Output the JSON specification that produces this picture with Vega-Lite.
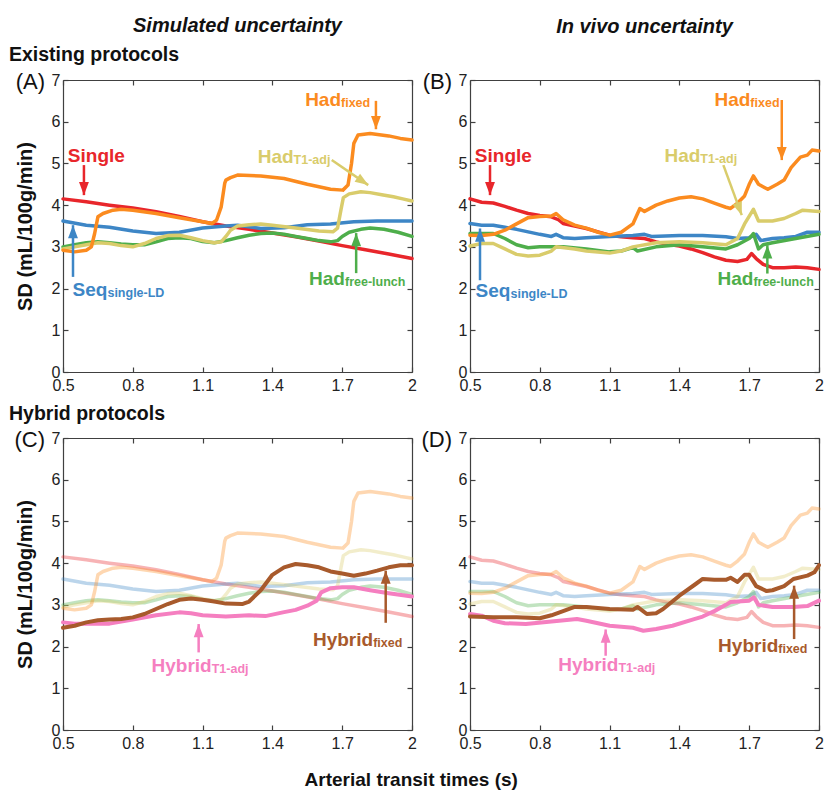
{
"$schema":"https://vega.github.io/schema/vega-lite/v6.json",
"padding":{"left":9,"top":16,"right":2,"bottom":2},
"config":{"view":{"stroke":null},"font":"Liberation Sans",
"axis":{"grid":false,"domainColor":"#404040","domainWidth":1.2,"tickColor":"#404040","tickWidth":1.2,"tickSize":-5,"labelFontSize":16,"labelColor":"#222222","labelPadding":8,"labelFlush":false,"titleFontSize":20,"titleFontWeight":"bold","titleColor":"#111111","titlePadding":16},
"axisX":{"labelPadding":10},
"text":{"font":"Liberation Sans"},"title":{"font":"Liberation Sans","color":"#111111"}},
"title":{"text":"Arterial transit times (s)","orient":"bottom","anchor":"middle","frame":"bounds","fontSize":19,"fontWeight":"bold","offset":20,"dx":-5},
"datasets":{
"lines":[
{"p":"A","s":"Single","x":0.5,"y":4.15},{"p":"A","s":"Single","x":0.6,"y":4.08},{"p":"A","s":"Single","x":0.7,"y":4.0},{"p":"A","s":"Single","x":0.8,"y":3.93},{"p":"A","s":"Single","x":0.9,"y":3.84},{"p":"A","s":"Single","x":1.0,"y":3.73},{"p":"A","s":"Single","x":1.1,"y":3.6},{"p":"A","s":"Single","x":1.2,"y":3.5},{"p":"A","s":"Single","x":1.3,"y":3.42},{"p":"A","s":"Single","x":1.4,"y":3.33},{"p":"A","s":"Single","x":1.5,"y":3.24},{"p":"A","s":"Single","x":1.6,"y":3.14},{"p":"A","s":"Single","x":1.7,"y":3.03},{"p":"A","s":"Single","x":1.8,"y":2.93},{"p":"A","s":"Single","x":1.9,"y":2.83},{"p":"A","s":"Single","x":2.0,"y":2.72},
{"p":"A","s":"Seq","x":0.5,"y":3.62},{"p":"A","s":"Seq","x":0.6,"y":3.52},{"p":"A","s":"Seq","x":0.7,"y":3.47},{"p":"A","s":"Seq","x":0.8,"y":3.38},{"p":"A","s":"Seq","x":0.9,"y":3.32},{"p":"A","s":"Seq","x":1.0,"y":3.35},{"p":"A","s":"Seq","x":1.1,"y":3.45},{"p":"A","s":"Seq","x":1.2,"y":3.5},{"p":"A","s":"Seq","x":1.25,"y":3.52},{"p":"A","s":"Seq","x":1.35,"y":3.44},{"p":"A","s":"Seq","x":1.45,"y":3.46},{"p":"A","s":"Seq","x":1.55,"y":3.53},{"p":"A","s":"Seq","x":1.65,"y":3.55},{"p":"A","s":"Seq","x":1.75,"y":3.6},{"p":"A","s":"Seq","x":1.85,"y":3.62},{"p":"A","s":"Seq","x":2.0,"y":3.62},
{"p":"A","s":"HadL","x":0.5,"y":3.0},{"p":"A","s":"HadL","x":0.55,"y":3.05},{"p":"A","s":"HadL","x":0.6,"y":3.1},{"p":"A","s":"HadL","x":0.65,"y":3.12},{"p":"A","s":"HadL","x":0.7,"y":3.1},{"p":"A","s":"HadL","x":0.75,"y":3.07},{"p":"A","s":"HadL","x":0.8,"y":3.05},{"p":"A","s":"HadL","x":0.85,"y":3.05},{"p":"A","s":"HadL","x":0.9,"y":3.12},{"p":"A","s":"HadL","x":0.95,"y":3.2},{"p":"A","s":"HadL","x":1.0,"y":3.22},{"p":"A","s":"HadL","x":1.05,"y":3.2},{"p":"A","s":"HadL","x":1.1,"y":3.13},{"p":"A","s":"HadL","x":1.15,"y":3.1},{"p":"A","s":"HadL","x":1.2,"y":3.15},{"p":"A","s":"HadL","x":1.25,"y":3.22},{"p":"A","s":"HadL","x":1.3,"y":3.28},{"p":"A","s":"HadL","x":1.35,"y":3.32},{"p":"A","s":"HadL","x":1.4,"y":3.33},{"p":"A","s":"HadL","x":1.45,"y":3.3},{"p":"A","s":"HadL","x":1.5,"y":3.25},{"p":"A","s":"HadL","x":1.55,"y":3.2},{"p":"A","s":"HadL","x":1.6,"y":3.15},{"p":"A","s":"HadL","x":1.65,"y":3.12},{"p":"A","s":"HadL","x":1.68,"y":3.15},{"p":"A","s":"HadL","x":1.7,"y":3.25},{"p":"A","s":"HadL","x":1.73,"y":3.35},{"p":"A","s":"HadL","x":1.78,"y":3.42},{"p":"A","s":"HadL","x":1.82,"y":3.45},{"p":"A","s":"HadL","x":1.88,"y":3.42},{"p":"A","s":"HadL","x":1.94,"y":3.35},{"p":"A","s":"HadL","x":2.0,"y":3.25},
{"p":"A","s":"HadT","x":0.5,"y":2.95},{"p":"A","s":"HadT","x":0.55,"y":3.0},{"p":"A","s":"HadT","x":0.6,"y":3.05},{"p":"A","s":"HadT","x":0.65,"y":3.1},{"p":"A","s":"HadT","x":0.7,"y":3.08},{"p":"A","s":"HadT","x":0.75,"y":3.03},{"p":"A","s":"HadT","x":0.8,"y":3.0},{"p":"A","s":"HadT","x":0.85,"y":3.08},{"p":"A","s":"HadT","x":0.9,"y":3.2},{"p":"A","s":"HadT","x":0.95,"y":3.27},{"p":"A","s":"HadT","x":1.0,"y":3.28},{"p":"A","s":"HadT","x":1.05,"y":3.22},{"p":"A","s":"HadT","x":1.1,"y":3.15},{"p":"A","s":"HadT","x":1.15,"y":3.1},{"p":"A","s":"HadT","x":1.18,"y":3.12},{"p":"A","s":"HadT","x":1.2,"y":3.25},{"p":"A","s":"HadT","x":1.22,"y":3.4},{"p":"A","s":"HadT","x":1.25,"y":3.5},{"p":"A","s":"HadT","x":1.3,"y":3.53},{"p":"A","s":"HadT","x":1.35,"y":3.55},{"p":"A","s":"HadT","x":1.4,"y":3.52},{"p":"A","s":"HadT","x":1.5,"y":3.45},{"p":"A","s":"HadT","x":1.6,"y":3.38},{"p":"A","s":"HadT","x":1.66,"y":3.36},{"p":"A","s":"HadT","x":1.68,"y":3.45},{"p":"A","s":"HadT","x":1.695,"y":3.9},{"p":"A","s":"HadT","x":1.705,"y":4.18},{"p":"A","s":"HadT","x":1.73,"y":4.27},{"p":"A","s":"HadT","x":1.78,"y":4.32},{"p":"A","s":"HadT","x":1.82,"y":4.3},{"p":"A","s":"HadT","x":1.87,"y":4.25},{"p":"A","s":"HadT","x":1.92,"y":4.2},{"p":"A","s":"HadT","x":1.96,"y":4.15},{"p":"A","s":"HadT","x":2.0,"y":4.1},
{"p":"A","s":"HadF","x":0.5,"y":2.92},{"p":"A","s":"HadF","x":0.55,"y":2.88},{"p":"A","s":"HadF","x":0.6,"y":2.92},{"p":"A","s":"HadF","x":0.622,"y":3.0},{"p":"A","s":"HadF","x":0.636,"y":3.32},{"p":"A","s":"HadF","x":0.65,"y":3.72},{"p":"A","s":"HadF","x":0.672,"y":3.8},{"p":"A","s":"HadF","x":0.715,"y":3.88},{"p":"A","s":"HadF","x":0.75,"y":3.9},{"p":"A","s":"HadF","x":0.8,"y":3.88},{"p":"A","s":"HadF","x":0.9,"y":3.8},{"p":"A","s":"HadF","x":1.0,"y":3.7},{"p":"A","s":"HadF","x":1.1,"y":3.6},{"p":"A","s":"HadF","x":1.14,"y":3.56},{"p":"A","s":"HadF","x":1.16,"y":3.64},{"p":"A","s":"HadF","x":1.18,"y":3.96},{"p":"A","s":"HadF","x":1.195,"y":4.52},{"p":"A","s":"HadF","x":1.2,"y":4.6},{"p":"A","s":"HadF","x":1.22,"y":4.66},{"p":"A","s":"HadF","x":1.25,"y":4.72},{"p":"A","s":"HadF","x":1.35,"y":4.7},{"p":"A","s":"HadF","x":1.45,"y":4.64},{"p":"A","s":"HadF","x":1.55,"y":4.5},{"p":"A","s":"HadF","x":1.65,"y":4.38},{"p":"A","s":"HadF","x":1.703,"y":4.36},{"p":"A","s":"HadF","x":1.725,"y":4.48},{"p":"A","s":"HadF","x":1.74,"y":5.0},{"p":"A","s":"HadF","x":1.75,"y":5.48},{"p":"A","s":"HadF","x":1.768,"y":5.68},{"p":"A","s":"HadF","x":1.82,"y":5.72},{"p":"A","s":"HadF","x":1.9,"y":5.66},{"p":"A","s":"HadF","x":1.95,"y":5.6},{"p":"A","s":"HadF","x":2.0,"y":5.56},
{"p":"B","s":"Single","x":0.5,"y":4.15},{"p":"B","s":"Single","x":0.55,"y":4.07},{"p":"B","s":"Single","x":0.6,"y":4.05},{"p":"B","s":"Single","x":0.65,"y":3.97},{"p":"B","s":"Single","x":0.7,"y":3.88},{"p":"B","s":"Single","x":0.75,"y":3.8},{"p":"B","s":"Single","x":0.8,"y":3.75},{"p":"B","s":"Single","x":0.85,"y":3.72},{"p":"B","s":"Single","x":0.88,"y":3.65},{"p":"B","s":"Single","x":0.9,"y":3.56},{"p":"B","s":"Single","x":0.95,"y":3.5},{"p":"B","s":"Single","x":1.0,"y":3.44},{"p":"B","s":"Single","x":1.05,"y":3.36},{"p":"B","s":"Single","x":1.1,"y":3.28},{"p":"B","s":"Single","x":1.15,"y":3.24},{"p":"B","s":"Single","x":1.2,"y":3.22},{"p":"B","s":"Single","x":1.25,"y":3.2},{"p":"B","s":"Single","x":1.3,"y":3.12},{"p":"B","s":"Single","x":1.35,"y":3.06},{"p":"B","s":"Single","x":1.4,"y":3.02},{"p":"B","s":"Single","x":1.45,"y":2.95},{"p":"B","s":"Single","x":1.5,"y":2.86},{"p":"B","s":"Single","x":1.55,"y":2.76},{"p":"B","s":"Single","x":1.6,"y":2.68},{"p":"B","s":"Single","x":1.65,"y":2.65},{"p":"B","s":"Single","x":1.69,"y":2.7},{"p":"B","s":"Single","x":1.71,"y":2.84},{"p":"B","s":"Single","x":1.73,"y":2.72},{"p":"B","s":"Single","x":1.76,"y":2.58},{"p":"B","s":"Single","x":1.8,"y":2.5},{"p":"B","s":"Single","x":1.85,"y":2.5},{"p":"B","s":"Single","x":1.9,"y":2.52},{"p":"B","s":"Single","x":1.95,"y":2.5},{"p":"B","s":"Single","x":2.0,"y":2.46},
{"p":"B","s":"Seq","x":0.5,"y":3.56},{"p":"B","s":"Seq","x":0.55,"y":3.52},{"p":"B","s":"Seq","x":0.6,"y":3.52},{"p":"B","s":"Seq","x":0.65,"y":3.47},{"p":"B","s":"Seq","x":0.7,"y":3.42},{"p":"B","s":"Seq","x":0.75,"y":3.36},{"p":"B","s":"Seq","x":0.8,"y":3.3},{"p":"B","s":"Seq","x":0.85,"y":3.25},{"p":"B","s":"Seq","x":0.87,"y":3.3},{"p":"B","s":"Seq","x":0.9,"y":3.22},{"p":"B","s":"Seq","x":0.95,"y":3.2},{"p":"B","s":"Seq","x":1.0,"y":3.22},{"p":"B","s":"Seq","x":1.1,"y":3.25},{"p":"B","s":"Seq","x":1.2,"y":3.27},{"p":"B","s":"Seq","x":1.25,"y":3.3},{"p":"B","s":"Seq","x":1.28,"y":3.25},{"p":"B","s":"Seq","x":1.4,"y":3.27},{"p":"B","s":"Seq","x":1.5,"y":3.27},{"p":"B","s":"Seq","x":1.6,"y":3.24},{"p":"B","s":"Seq","x":1.65,"y":3.2},{"p":"B","s":"Seq","x":1.7,"y":3.22},{"p":"B","s":"Seq","x":1.73,"y":3.3},{"p":"B","s":"Seq","x":1.75,"y":3.15},{"p":"B","s":"Seq","x":1.8,"y":3.2},{"p":"B","s":"Seq","x":1.85,"y":3.22},{"p":"B","s":"Seq","x":1.9,"y":3.25},{"p":"B","s":"Seq","x":1.95,"y":3.35},{"p":"B","s":"Seq","x":2.0,"y":3.35},
{"p":"B","s":"HadL","x":0.5,"y":3.32},{"p":"B","s":"HadL","x":0.6,"y":3.32},{"p":"B","s":"HadL","x":0.65,"y":3.2},{"p":"B","s":"HadL","x":0.7,"y":3.05},{"p":"B","s":"HadL","x":0.75,"y":2.98},{"p":"B","s":"HadL","x":0.8,"y":3.0},{"p":"B","s":"HadL","x":0.9,"y":3.0},{"p":"B","s":"HadL","x":1.0,"y":2.95},{"p":"B","s":"HadL","x":1.1,"y":2.88},{"p":"B","s":"HadL","x":1.15,"y":2.9},{"p":"B","s":"HadL","x":1.2,"y":2.98},{"p":"B","s":"HadL","x":1.22,"y":2.9},{"p":"B","s":"HadL","x":1.3,"y":3.0},{"p":"B","s":"HadL","x":1.4,"y":3.05},{"p":"B","s":"HadL","x":1.5,"y":3.0},{"p":"B","s":"HadL","x":1.6,"y":2.95},{"p":"B","s":"HadL","x":1.65,"y":3.05},{"p":"B","s":"HadL","x":1.7,"y":3.2},{"p":"B","s":"HadL","x":1.718,"y":3.32},{"p":"B","s":"HadL","x":1.74,"y":2.95},{"p":"B","s":"HadL","x":1.76,"y":3.05},{"p":"B","s":"HadL","x":1.8,"y":3.1},{"p":"B","s":"HadL","x":1.9,"y":3.2},{"p":"B","s":"HadL","x":2.0,"y":3.3},
{"p":"B","s":"HadT","x":0.5,"y":3.02},{"p":"B","s":"HadT","x":0.55,"y":3.08},{"p":"B","s":"HadT","x":0.6,"y":3.08},{"p":"B","s":"HadT","x":0.65,"y":2.95},{"p":"B","s":"HadT","x":0.7,"y":2.82},{"p":"B","s":"HadT","x":0.75,"y":2.78},{"p":"B","s":"HadT","x":0.8,"y":2.8},{"p":"B","s":"HadT","x":0.85,"y":2.9},{"p":"B","s":"HadT","x":0.87,"y":3.0},{"p":"B","s":"HadT","x":0.95,"y":2.95},{"p":"B","s":"HadT","x":1.0,"y":2.9},{"p":"B","s":"HadT","x":1.1,"y":2.85},{"p":"B","s":"HadT","x":1.15,"y":2.9},{"p":"B","s":"HadT","x":1.2,"y":3.0},{"p":"B","s":"HadT","x":1.3,"y":3.1},{"p":"B","s":"HadT","x":1.4,"y":3.12},{"p":"B","s":"HadT","x":1.5,"y":3.1},{"p":"B","s":"HadT","x":1.6,"y":3.05},{"p":"B","s":"HadT","x":1.65,"y":3.2},{"p":"B","s":"HadT","x":1.68,"y":3.55},{"p":"B","s":"HadT","x":1.718,"y":3.9},{"p":"B","s":"HadT","x":1.74,"y":3.62},{"p":"B","s":"HadT","x":1.8,"y":3.62},{"p":"B","s":"HadT","x":1.85,"y":3.68},{"p":"B","s":"HadT","x":1.9,"y":3.8},{"p":"B","s":"HadT","x":1.93,"y":3.88},{"p":"B","s":"HadT","x":2.0,"y":3.85},
{"p":"B","s":"HadF","x":0.5,"y":3.28},{"p":"B","s":"HadF","x":0.55,"y":3.27},{"p":"B","s":"HadF","x":0.6,"y":3.3},{"p":"B","s":"HadF","x":0.65,"y":3.4},{"p":"B","s":"HadF","x":0.7,"y":3.55},{"p":"B","s":"HadF","x":0.75,"y":3.7},{"p":"B","s":"HadF","x":0.8,"y":3.73},{"p":"B","s":"HadF","x":0.85,"y":3.74},{"p":"B","s":"HadF","x":0.87,"y":3.8},{"p":"B","s":"HadF","x":0.9,"y":3.65},{"p":"B","s":"HadF","x":0.95,"y":3.52},{"p":"B","s":"HadF","x":1.0,"y":3.45},{"p":"B","s":"HadF","x":1.05,"y":3.35},{"p":"B","s":"HadF","x":1.1,"y":3.28},{"p":"B","s":"HadF","x":1.15,"y":3.35},{"p":"B","s":"HadF","x":1.2,"y":3.55},{"p":"B","s":"HadF","x":1.23,"y":3.92},{"p":"B","s":"HadF","x":1.25,"y":3.85},{"p":"B","s":"HadF","x":1.3,"y":4.0},{"p":"B","s":"HadF","x":1.35,"y":4.1},{"p":"B","s":"HadF","x":1.4,"y":4.17},{"p":"B","s":"HadF","x":1.45,"y":4.2},{"p":"B","s":"HadF","x":1.5,"y":4.15},{"p":"B","s":"HadF","x":1.55,"y":4.05},{"p":"B","s":"HadF","x":1.6,"y":3.95},{"p":"B","s":"HadF","x":1.62,"y":3.92},{"p":"B","s":"HadF","x":1.65,"y":4.05},{"p":"B","s":"HadF","x":1.68,"y":4.22},{"p":"B","s":"HadF","x":1.7,"y":4.5},{"p":"B","s":"HadF","x":1.718,"y":4.7},{"p":"B","s":"HadF","x":1.74,"y":4.5},{"p":"B","s":"HadF","x":1.78,"y":4.38},{"p":"B","s":"HadF","x":1.82,"y":4.5},{"p":"B","s":"HadF","x":1.85,"y":4.6},{"p":"B","s":"HadF","x":1.88,"y":4.9},{"p":"B","s":"HadF","x":1.92,"y":5.15},{"p":"B","s":"HadF","x":1.95,"y":5.2},{"p":"B","s":"HadF","x":1.97,"y":5.32},{"p":"B","s":"HadF","x":2.0,"y":5.3},
{"p":"C","s":"HybT","x":0.5,"y":2.58},{"p":"C","s":"HybT","x":0.55,"y":2.55},{"p":"C","s":"HybT","x":0.6,"y":2.55},{"p":"C","s":"HybT","x":0.7,"y":2.55},{"p":"C","s":"HybT","x":0.8,"y":2.65},{"p":"C","s":"HybT","x":0.9,"y":2.75},{"p":"C","s":"HybT","x":1.0,"y":2.82},{"p":"C","s":"HybT","x":1.05,"y":2.8},{"p":"C","s":"HybT","x":1.1,"y":2.75},{"p":"C","s":"HybT","x":1.2,"y":2.72},{"p":"C","s":"HybT","x":1.3,"y":2.75},{"p":"C","s":"HybT","x":1.37,"y":2.73},{"p":"C","s":"HybT","x":1.445,"y":2.82},{"p":"C","s":"HybT","x":1.5,"y":2.88},{"p":"C","s":"HybT","x":1.55,"y":2.98},{"p":"C","s":"HybT","x":1.59,"y":3.1},{"p":"C","s":"HybT","x":1.61,"y":3.3},{"p":"C","s":"HybT","x":1.65,"y":3.4},{"p":"C","s":"HybT","x":1.7,"y":3.42},{"p":"C","s":"HybT","x":1.75,"y":3.42},{"p":"C","s":"HybT","x":1.82,"y":3.35},{"p":"C","s":"HybT","x":1.9,"y":3.28},{"p":"C","s":"HybT","x":2.0,"y":3.2},
{"p":"C","s":"HybF","x":0.5,"y":2.45},{"p":"C","s":"HybF","x":0.55,"y":2.5},{"p":"C","s":"HybF","x":0.6,"y":2.58},{"p":"C","s":"HybF","x":0.65,"y":2.63},{"p":"C","s":"HybF","x":0.7,"y":2.65},{"p":"C","s":"HybF","x":0.75,"y":2.66},{"p":"C","s":"HybF","x":0.8,"y":2.7},{"p":"C","s":"HybF","x":0.85,"y":2.78},{"p":"C","s":"HybF","x":0.9,"y":2.9},{"p":"C","s":"HybF","x":0.95,"y":3.02},{"p":"C","s":"HybF","x":1.0,"y":3.12},{"p":"C","s":"HybF","x":1.05,"y":3.15},{"p":"C","s":"HybF","x":1.1,"y":3.12},{"p":"C","s":"HybF","x":1.15,"y":3.08},{"p":"C","s":"HybF","x":1.2,"y":3.03},{"p":"C","s":"HybF","x":1.27,"y":3.02},{"p":"C","s":"HybF","x":1.3,"y":3.08},{"p":"C","s":"HybF","x":1.35,"y":3.35},{"p":"C","s":"HybF","x":1.4,"y":3.72},{"p":"C","s":"HybF","x":1.45,"y":3.9},{"p":"C","s":"HybF","x":1.5,"y":3.98},{"p":"C","s":"HybF","x":1.55,"y":3.95},{"p":"C","s":"HybF","x":1.6,"y":3.9},{"p":"C","s":"HybF","x":1.65,"y":3.8},{"p":"C","s":"HybF","x":1.7,"y":3.75},{"p":"C","s":"HybF","x":1.75,"y":3.7},{"p":"C","s":"HybF","x":1.8,"y":3.75},{"p":"C","s":"HybF","x":1.85,"y":3.82},{"p":"C","s":"HybF","x":1.9,"y":3.9},{"p":"C","s":"HybF","x":1.95,"y":3.95},{"p":"C","s":"HybF","x":2.0,"y":3.95},
{"p":"D","s":"HybT","x":0.5,"y":2.78},{"p":"D","s":"HybT","x":0.55,"y":2.74},{"p":"D","s":"HybT","x":0.6,"y":2.62},{"p":"D","s":"HybT","x":0.65,"y":2.56},{"p":"D","s":"HybT","x":0.74,"y":2.54},{"p":"D","s":"HybT","x":0.85,"y":2.6},{"p":"D","s":"HybT","x":0.96,"y":2.66},{"p":"D","s":"HybT","x":1.0,"y":2.62},{"p":"D","s":"HybT","x":1.1,"y":2.5},{"p":"D","s":"HybT","x":1.2,"y":2.45},{"p":"D","s":"HybT","x":1.245,"y":2.38},{"p":"D","s":"HybT","x":1.3,"y":2.42},{"p":"D","s":"HybT","x":1.37,"y":2.5},{"p":"D","s":"HybT","x":1.46,"y":2.65},{"p":"D","s":"HybT","x":1.5,"y":2.72},{"p":"D","s":"HybT","x":1.55,"y":2.85},{"p":"D","s":"HybT","x":1.6,"y":3.0},{"p":"D","s":"HybT","x":1.62,"y":3.07},{"p":"D","s":"HybT","x":1.7,"y":3.1},{"p":"D","s":"HybT","x":1.72,"y":3.18},{"p":"D","s":"HybT","x":1.74,"y":3.0},{"p":"D","s":"HybT","x":1.8,"y":2.95},{"p":"D","s":"HybT","x":1.89,"y":2.95},{"p":"D","s":"HybT","x":1.95,"y":2.97},{"p":"D","s":"HybT","x":2.0,"y":3.1},
{"p":"D","s":"HybF","x":0.5,"y":2.72},{"p":"D","s":"HybF","x":0.6,"y":2.7},{"p":"D","s":"HybF","x":0.7,"y":2.7},{"p":"D","s":"HybF","x":0.8,"y":2.68},{"p":"D","s":"HybF","x":0.85,"y":2.75},{"p":"D","s":"HybF","x":0.9,"y":2.85},{"p":"D","s":"HybF","x":0.95,"y":2.95},{"p":"D","s":"HybF","x":1.0,"y":2.95},{"p":"D","s":"HybF","x":1.1,"y":2.9},{"p":"D","s":"HybF","x":1.2,"y":2.88},{"p":"D","s":"HybF","x":1.22,"y":2.95},{"p":"D","s":"HybF","x":1.26,"y":2.78},{"p":"D","s":"HybF","x":1.3,"y":2.8},{"p":"D","s":"HybF","x":1.33,"y":2.9},{"p":"D","s":"HybF","x":1.4,"y":3.22},{"p":"D","s":"HybF","x":1.47,"y":3.5},{"p":"D","s":"HybF","x":1.5,"y":3.62},{"p":"D","s":"HybF","x":1.55,"y":3.6},{"p":"D","s":"HybF","x":1.6,"y":3.6},{"p":"D","s":"HybF","x":1.62,"y":3.65},{"p":"D","s":"HybF","x":1.65,"y":3.55},{"p":"D","s":"HybF","x":1.68,"y":3.72},{"p":"D","s":"HybF","x":1.7,"y":3.72},{"p":"D","s":"HybF","x":1.73,"y":3.45},{"p":"D","s":"HybF","x":1.775,"y":3.33},{"p":"D","s":"HybF","x":1.8,"y":3.35},{"p":"D","s":"HybF","x":1.85,"y":3.45},{"p":"D","s":"HybF","x":1.89,"y":3.62},{"p":"D","s":"HybF","x":1.95,"y":3.7},{"p":"D","s":"HybF","x":1.98,"y":3.78},{"p":"D","s":"HybF","x":2.0,"y":3.95}
],
"notes":[
{"p":"A","s":"Single","m":"Single","u":"","x":0.766,"y":5.04},
{"p":"A","s":"Seq","m":"Seq","u":"single-LD","x":0.691,"y":1.82},
{"p":"A","s":"HadF","m":"Had","u":"fixed","x":1.695,"y":6.38},
{"p":"A","s":"HadT","m":"Had","u":"T1-adj","x":1.491,"y":5.02},
{"p":"A","s":"HadL","m":"Had","u":"free-lunch","x":1.712,"y":2.08},
{"p":"B","s":"Single","m":"Single","u":"","x":0.766,"y":5.04},
{"p":"B","s":"Seq","m":"Seq","u":"single-LD","x":0.674,"y":1.79},
{"p":"B","s":"HadF","m":"Had","u":"fixed","x":1.705,"y":6.38},
{"p":"B","s":"HadT","m":"Had","u":"T1-adj","x":1.49,"y":5.04},
{"p":"B","s":"HadL","m":"Had","u":"free-lunch","x":1.718,"y":2.08},
{"p":"C","s":"HybT","m":"Hybrid","u":"T1-adj","x":1.139,"y":1.4},
{"p":"C","s":"HybF","m":"Hybrid","u":"fixed","x":1.833,"y":2.02},
{"p":"D","s":"HybT","m":"Hybrid","u":"T1-adj","x":1.138,"y":1.42},
{"p":"D","s":"HybF","m":"Hybrid","u":"fixed","x":1.825,"y":1.88}
],
"arrows":[
{"p":"A","s":"Single","x":0.59,"y":4.96,"xe":0.59,"ye":4.24,"h":"down"},
{"p":"A","s":"Seq","x":0.543,"y":2.28,"xe":0.543,"ye":3.52,"h":"up"},
{"p":"A","s":"HadF","x":1.845,"y":6.5,"xe":1.845,"ye":5.82,"h":"down"},
{"p":"A","s":"HadT","x":1.655,"y":5.08,"xe":1.812,"ye":4.48,"h":"diag1"},
{"p":"A","s":"HadL","x":1.76,"y":2.37,"xe":1.76,"ye":3.33,"h":"up"},
{"p":"B","s":"Single","x":0.586,"y":4.96,"xe":0.586,"ye":4.24,"h":"down"},
{"p":"B","s":"Seq","x":0.543,"y":2.2,"xe":0.543,"ye":3.44,"h":"up"},
{"p":"B","s":"HadF","x":1.84,"y":6.52,"xe":1.84,"ye":5.08,"h":"down"},
{"p":"B","s":"HadT","x":1.589,"y":4.96,"xe":1.668,"ye":3.76,"h":"diag2"},
{"p":"B","s":"HadL","x":1.778,"y":2.36,"xe":1.778,"ye":3.04,"h":"up"},
{"p":"C","s":"HybT","x":1.083,"y":1.86,"xe":1.083,"ye":2.54,"h":"up"},
{"p":"C","s":"HybF","x":1.887,"y":2.57,"xe":1.887,"ye":3.82,"h":"up"},
{"p":"D","s":"HybT","x":1.083,"y":1.78,"xe":1.083,"ye":2.41,"h":"up"},
{"p":"D","s":"HybF","x":1.893,"y":2.18,"xe":1.893,"ye":3.46,"h":"up"}
],
"tags":[
{"p":"A","t":"(A)","g":"Existing protocols","x":0.5,"y":7},
{"p":"B","t":"(B)","g":"","x":0.5,"y":7},
{"p":"C","t":"(C)","g":"Hybrid protocols","x":0.5,"y":7},
{"p":"D","t":"(D)","g":"","x":0.5,"y":7}
]
},
"columns":2,
"bounds":"flush",
"spacing":{"row":66,"column":58},
"concat":[
{"width":349,"height":292,
"title":{"text":"Simulated uncertainty","fontSize":20,"fontStyle":"italic","fontWeight":"bold","anchor":"middle","frame":"group","offset":9},
"resolve":{"axis":{"x":"independent","y":"independent"}},
"layer":[
{"data":{"name":"lines"},"transform":[{"filter":"datum.p==='A'"}],"mark":{"type":"line","strokeWidth":3.5,"strokeJoin":"round","strokeCap":"round"},
"encoding":{"x":{"field":"x","type":"quantitative","scale":{"domain":[0.5,2],"nice":false,"zero":false},"axis":{"values":[0.5,0.8,1.1,1.4,1.7,2],"format":"~g","title":null}},
"y":{"field":"y","type":"quantitative","scale":{"domain":[0,7],"nice":false,"zero":false},"axis":{"values":[0,1,2,3,4,5,6,7],"title":"SD (mL/100g/min)"}},
"color":{"field":"s","type":"nominal","scale":{"domain":["Single","Seq","HadF","HadT","HadL","HybF","HybT"],"range":["#e8262b","#3d86c6","#fb8b1f","#d9cc6b","#4eae4b","#a85a2c","#f57fc0"]},"legend":null}}},
{"data":{"name":"arrows"},"transform":[{"filter":"datum.p==='A'"}],"mark":{"type":"rule","strokeWidth":2.5},
"encoding":{"x":{"field":"x","type":"quantitative","axis":{"orient":"top","labels":false,"title":null,"values":[0.5,0.8,1.1,1.4,1.7,2]}},"x2":{"field":"xe"},
"y":{"field":"y","type":"quantitative","axis":{"orient":"right","labels":false,"title":null,"values":[0,1,2,3,4,5,6,7]}},"y2":{"field":"ye"},
"color":{"field":"s","type":"nominal","scale":{"domain":["Single","Seq","HadF","HadT","HadL","HybF","HybT"],"range":["#e8262b","#3d86c6","#fb8b1f","#d9cc6b","#4eae4b","#a85a2c","#f57fc0"]},"legend":null}}},
{"data":{"name":"arrows"},"transform":[{"filter":"datum.p==='A'"}],"mark":{"type":"point","filled":true,"opacity":1,"size":484},
"encoding":{"x":{"field":"xe","type":"quantitative","axis":null},"y":{"field":"ye","type":"quantitative","axis":null},
"shape":{"field":"h","type":"nominal","scale":{"domain":["up","down","diag1","diag2"],"range":["M0,0L-0.45,1.2L0.45,1.2Z","M0,0L-0.45,-1.2L0.45,-1.2Z","M0,0L-1.247,-0.298L-0.743,-1.044Z","M0,0L-0.837,-0.972L0.009,-1.282Z"]},"legend":null},
"color":{"field":"s","type":"nominal","scale":{"domain":["Single","Seq","HadF","HadT","HadL","HybF","HybT"],"range":["#e8262b","#3d86c6","#fb8b1f","#d9cc6b","#4eae4b","#a85a2c","#f57fc0"]},"legend":null}}},
{"data":{"name":"notes"},"transform":[{"filter":"datum.p==='A'"}],"mark":{"type":"text","align":"right","baseline":"alphabetic","fontSize":19,"fontWeight":"bold"},
"encoding":{"x":{"field":"x","type":"quantitative","axis":null},"y":{"field":"y","type":"quantitative","axis":null},"text":{"field":"m"},
"color":{"field":"s","type":"nominal","scale":{"domain":["Single","Seq","HadF","HadT","HadL","HybF","HybT"],"range":["#e8262b","#3d86c6","#fb8b1f","#d9cc6b","#4eae4b","#a85a2c","#f57fc0"]},"legend":null}}},
{"data":{"name":"notes"},"transform":[{"filter":"datum.p==='A'"}],"mark":{"type":"text","align":"left","baseline":"alphabetic","fontSize":12.5,"fontWeight":"bold","dy":1},
"encoding":{"x":{"field":"x","type":"quantitative","axis":null},"y":{"field":"y","type":"quantitative","axis":null},"text":{"field":"u"},
"color":{"field":"s","type":"nominal","scale":{"domain":["Single","Seq","HadF","HadT","HadL","HybF","HybT"],"range":["#e8262b","#3d86c6","#fb8b1f","#d9cc6b","#4eae4b","#a85a2c","#f57fc0"]},"legend":null}}},
{"data":{"name":"tags"},"transform":[{"filter":"datum.p==='A'"}],"mark":{"type":"text","align":"right","baseline":"middle","dx":-18,"dy":2,"fontSize":22,"color":"#111111"},
"encoding":{"x":{"field":"x","type":"quantitative","axis":null},"y":{"field":"y","type":"quantitative","axis":null},"text":{"field":"t"}}},
{"data":{"name":"tags"},"transform":[{"filter":"datum.p==='A'"}],"mark":{"type":"text","align":"left","baseline":"middle","dx":-54,"dy":-25,"fontSize":19.5,"fontWeight":"bold","color":"#111111"},
"encoding":{"x":{"field":"x","type":"quantitative","axis":null},"y":{"field":"y","type":"quantitative","axis":null},"text":{"field":"g"}}}
]},
{"width":349,"height":292,
"title":{"text":"In vivo uncertainty","fontSize":20,"fontStyle":"italic","fontWeight":"bold","anchor":"middle","frame":"group","offset":34},
"resolve":{"axis":{"x":"independent","y":"independent"}},
"layer":[
{"data":{"name":"lines"},"transform":[{"filter":"datum.p==='B'"}],"mark":{"type":"line","strokeWidth":3.5,"strokeJoin":"round","strokeCap":"round"},
"encoding":{"x":{"field":"x","type":"quantitative","scale":{"domain":[0.5,2],"nice":false,"zero":false},"axis":{"values":[0.5,0.8,1.1,1.4,1.7,2],"format":"~g","title":null}},
"y":{"field":"y","type":"quantitative","scale":{"domain":[0,7],"nice":false,"zero":false},"axis":{"values":[0,1,2,3,4,5,6,7],"title":null}},
"color":{"field":"s","type":"nominal","scale":{"domain":["Single","Seq","HadF","HadT","HadL","HybF","HybT"],"range":["#e8262b","#3d86c6","#fb8b1f","#d9cc6b","#4eae4b","#a85a2c","#f57fc0"]},"legend":null}}},
{"data":{"name":"arrows"},"transform":[{"filter":"datum.p==='B'"}],"mark":{"type":"rule","strokeWidth":2.5},
"encoding":{"x":{"field":"x","type":"quantitative","axis":{"orient":"top","labels":false,"title":null,"values":[0.5,0.8,1.1,1.4,1.7,2]}},"x2":{"field":"xe"},
"y":{"field":"y","type":"quantitative","axis":{"orient":"right","labels":false,"title":null,"values":[0,1,2,3,4,5,6,7]}},"y2":{"field":"ye"},
"color":{"field":"s","type":"nominal","scale":{"domain":["Single","Seq","HadF","HadT","HadL","HybF","HybT"],"range":["#e8262b","#3d86c6","#fb8b1f","#d9cc6b","#4eae4b","#a85a2c","#f57fc0"]},"legend":null}}},
{"data":{"name":"arrows"},"transform":[{"filter":"datum.p==='B'"}],"mark":{"type":"point","filled":true,"opacity":1,"size":484},
"encoding":{"x":{"field":"xe","type":"quantitative","axis":null},"y":{"field":"ye","type":"quantitative","axis":null},
"shape":{"field":"h","type":"nominal","scale":{"domain":["up","down","diag1","diag2"],"range":["M0,0L-0.45,1.2L0.45,1.2Z","M0,0L-0.45,-1.2L0.45,-1.2Z","M0,0L-1.247,-0.298L-0.743,-1.044Z","M0,0L-0.837,-0.972L0.009,-1.282Z"]},"legend":null},
"color":{"field":"s","type":"nominal","scale":{"domain":["Single","Seq","HadF","HadT","HadL","HybF","HybT"],"range":["#e8262b","#3d86c6","#fb8b1f","#d9cc6b","#4eae4b","#a85a2c","#f57fc0"]},"legend":null}}},
{"data":{"name":"notes"},"transform":[{"filter":"datum.p==='B'"}],"mark":{"type":"text","align":"right","baseline":"alphabetic","fontSize":19,"fontWeight":"bold"},
"encoding":{"x":{"field":"x","type":"quantitative","axis":null},"y":{"field":"y","type":"quantitative","axis":null},"text":{"field":"m"},
"color":{"field":"s","type":"nominal","scale":{"domain":["Single","Seq","HadF","HadT","HadL","HybF","HybT"],"range":["#e8262b","#3d86c6","#fb8b1f","#d9cc6b","#4eae4b","#a85a2c","#f57fc0"]},"legend":null}}},
{"data":{"name":"notes"},"transform":[{"filter":"datum.p==='B'"}],"mark":{"type":"text","align":"left","baseline":"alphabetic","fontSize":12.5,"fontWeight":"bold","dy":1},
"encoding":{"x":{"field":"x","type":"quantitative","axis":null},"y":{"field":"y","type":"quantitative","axis":null},"text":{"field":"u"},
"color":{"field":"s","type":"nominal","scale":{"domain":["Single","Seq","HadF","HadT","HadL","HybF","HybT"],"range":["#e8262b","#3d86c6","#fb8b1f","#d9cc6b","#4eae4b","#a85a2c","#f57fc0"]},"legend":null}}},
{"data":{"name":"tags"},"transform":[{"filter":"datum.p==='B'"}],"mark":{"type":"text","align":"right","baseline":"middle","dx":-18,"dy":2,"fontSize":22,"color":"#111111"},
"encoding":{"x":{"field":"x","type":"quantitative","axis":null},"y":{"field":"y","type":"quantitative","axis":null},"text":{"field":"t"}}}
]},
{"width":349,"height":292,
"resolve":{"axis":{"x":"independent","y":"independent"}},
"layer":[
{"data":{"name":"lines"},"transform":[{"filter":"datum.p==='A'"}],"mark":{"type":"line","strokeWidth":3.5,"strokeJoin":"round","strokeCap":"round","opacity":0.35},
"encoding":{"x":{"field":"x","type":"quantitative","scale":{"domain":[0.5,2],"nice":false,"zero":false},"axis":{"values":[0.5,0.8,1.1,1.4,1.7,2],"format":"~g","title":null}},
"y":{"field":"y","type":"quantitative","scale":{"domain":[0,7],"nice":false,"zero":false},"axis":{"values":[0,1,2,3,4,5,6,7],"title":"SD (mL/100g/min)"}},
"color":{"field":"s","type":"nominal","scale":{"domain":["Single","Seq","HadF","HadT","HadL","HybF","HybT"],"range":["#e8262b","#3d86c6","#fb8b1f","#d9cc6b","#4eae4b","#a85a2c","#f57fc0"]},"legend":null}}},
{"data":{"name":"lines"},"transform":[{"filter":"datum.p==='C'"}],"mark":{"type":"line","strokeWidth":4,"strokeJoin":"round","strokeCap":"round"},
"encoding":{"x":{"field":"x","type":"quantitative","axis":null},"y":{"field":"y","type":"quantitative","axis":null},
"color":{"field":"s","type":"nominal","scale":{"domain":["Single","Seq","HadF","HadT","HadL","HybF","HybT"],"range":["#e8262b","#3d86c6","#fb8b1f","#d9cc6b","#4eae4b","#a85a2c","#f57fc0"]},"legend":null}}},
{"data":{"name":"arrows"},"transform":[{"filter":"datum.p==='C'"}],"mark":{"type":"rule","strokeWidth":2.5},
"encoding":{"x":{"field":"x","type":"quantitative","axis":{"orient":"top","labels":false,"title":null,"values":[0.5,0.8,1.1,1.4,1.7,2]}},"x2":{"field":"xe"},
"y":{"field":"y","type":"quantitative","axis":{"orient":"right","labels":false,"title":null,"values":[0,1,2,3,4,5,6,7]}},"y2":{"field":"ye"},
"color":{"field":"s","type":"nominal","scale":{"domain":["Single","Seq","HadF","HadT","HadL","HybF","HybT"],"range":["#e8262b","#3d86c6","#fb8b1f","#d9cc6b","#4eae4b","#a85a2c","#f57fc0"]},"legend":null}}},
{"data":{"name":"arrows"},"transform":[{"filter":"datum.p==='C'"}],"mark":{"type":"point","filled":true,"opacity":1,"size":484},
"encoding":{"x":{"field":"xe","type":"quantitative","axis":null},"y":{"field":"ye","type":"quantitative","axis":null},
"shape":{"field":"h","type":"nominal","scale":{"domain":["up","down","diag1","diag2"],"range":["M0,0L-0.45,1.2L0.45,1.2Z","M0,0L-0.45,-1.2L0.45,-1.2Z","M0,0L-1.247,-0.298L-0.743,-1.044Z","M0,0L-0.837,-0.972L0.009,-1.282Z"]},"legend":null},
"color":{"field":"s","type":"nominal","scale":{"domain":["Single","Seq","HadF","HadT","HadL","HybF","HybT"],"range":["#e8262b","#3d86c6","#fb8b1f","#d9cc6b","#4eae4b","#a85a2c","#f57fc0"]},"legend":null}}},
{"data":{"name":"notes"},"transform":[{"filter":"datum.p==='C'"}],"mark":{"type":"text","align":"right","baseline":"alphabetic","fontSize":19,"fontWeight":"bold"},
"encoding":{"x":{"field":"x","type":"quantitative","axis":null},"y":{"field":"y","type":"quantitative","axis":null},"text":{"field":"m"},
"color":{"field":"s","type":"nominal","scale":{"domain":["Single","Seq","HadF","HadT","HadL","HybF","HybT"],"range":["#e8262b","#3d86c6","#fb8b1f","#d9cc6b","#4eae4b","#a85a2c","#f57fc0"]},"legend":null}}},
{"data":{"name":"notes"},"transform":[{"filter":"datum.p==='C'"}],"mark":{"type":"text","align":"left","baseline":"alphabetic","fontSize":12.5,"fontWeight":"bold","dy":1},
"encoding":{"x":{"field":"x","type":"quantitative","axis":null},"y":{"field":"y","type":"quantitative","axis":null},"text":{"field":"u"},
"color":{"field":"s","type":"nominal","scale":{"domain":["Single","Seq","HadF","HadT","HadL","HybF","HybT"],"range":["#e8262b","#3d86c6","#fb8b1f","#d9cc6b","#4eae4b","#a85a2c","#f57fc0"]},"legend":null}}},
{"data":{"name":"tags"},"transform":[{"filter":"datum.p==='C'"}],"mark":{"type":"text","align":"right","baseline":"middle","dx":-18,"dy":2,"fontSize":22,"color":"#111111"},
"encoding":{"x":{"field":"x","type":"quantitative","axis":null},"y":{"field":"y","type":"quantitative","axis":null},"text":{"field":"t"}}},
{"data":{"name":"tags"},"transform":[{"filter":"datum.p==='C'"}],"mark":{"type":"text","align":"left","baseline":"middle","dx":-54,"dy":-24,"fontSize":19.5,"fontWeight":"bold","color":"#111111"},
"encoding":{"x":{"field":"x","type":"quantitative","axis":null},"y":{"field":"y","type":"quantitative","axis":null},"text":{"field":"g"}}}
]},
{"width":349,"height":292,
"resolve":{"axis":{"x":"independent","y":"independent"}},
"layer":[
{"data":{"name":"lines"},"transform":[{"filter":"datum.p==='B'"}],"mark":{"type":"line","strokeWidth":3.5,"strokeJoin":"round","strokeCap":"round","opacity":0.35},
"encoding":{"x":{"field":"x","type":"quantitative","scale":{"domain":[0.5,2],"nice":false,"zero":false},"axis":{"values":[0.5,0.8,1.1,1.4,1.7,2],"format":"~g","title":null}},
"y":{"field":"y","type":"quantitative","scale":{"domain":[0,7],"nice":false,"zero":false},"axis":{"values":[0,1,2,3,4,5,6,7],"title":null}},
"color":{"field":"s","type":"nominal","scale":{"domain":["Single","Seq","HadF","HadT","HadL","HybF","HybT"],"range":["#e8262b","#3d86c6","#fb8b1f","#d9cc6b","#4eae4b","#a85a2c","#f57fc0"]},"legend":null}}},
{"data":{"name":"lines"},"transform":[{"filter":"datum.p==='D'"}],"mark":{"type":"line","strokeWidth":4,"strokeJoin":"round","strokeCap":"round"},
"encoding":{"x":{"field":"x","type":"quantitative","axis":null},"y":{"field":"y","type":"quantitative","axis":null},
"color":{"field":"s","type":"nominal","scale":{"domain":["Single","Seq","HadF","HadT","HadL","HybF","HybT"],"range":["#e8262b","#3d86c6","#fb8b1f","#d9cc6b","#4eae4b","#a85a2c","#f57fc0"]},"legend":null}}},
{"data":{"name":"arrows"},"transform":[{"filter":"datum.p==='D'"}],"mark":{"type":"rule","strokeWidth":2.5},
"encoding":{"x":{"field":"x","type":"quantitative","axis":{"orient":"top","labels":false,"title":null,"values":[0.5,0.8,1.1,1.4,1.7,2]}},"x2":{"field":"xe"},
"y":{"field":"y","type":"quantitative","axis":{"orient":"right","labels":false,"title":null,"values":[0,1,2,3,4,5,6,7]}},"y2":{"field":"ye"},
"color":{"field":"s","type":"nominal","scale":{"domain":["Single","Seq","HadF","HadT","HadL","HybF","HybT"],"range":["#e8262b","#3d86c6","#fb8b1f","#d9cc6b","#4eae4b","#a85a2c","#f57fc0"]},"legend":null}}},
{"data":{"name":"arrows"},"transform":[{"filter":"datum.p==='D'"}],"mark":{"type":"point","filled":true,"opacity":1,"size":484},
"encoding":{"x":{"field":"xe","type":"quantitative","axis":null},"y":{"field":"ye","type":"quantitative","axis":null},
"shape":{"field":"h","type":"nominal","scale":{"domain":["up","down","diag1","diag2"],"range":["M0,0L-0.45,1.2L0.45,1.2Z","M0,0L-0.45,-1.2L0.45,-1.2Z","M0,0L-1.247,-0.298L-0.743,-1.044Z","M0,0L-0.837,-0.972L0.009,-1.282Z"]},"legend":null},
"color":{"field":"s","type":"nominal","scale":{"domain":["Single","Seq","HadF","HadT","HadL","HybF","HybT"],"range":["#e8262b","#3d86c6","#fb8b1f","#d9cc6b","#4eae4b","#a85a2c","#f57fc0"]},"legend":null}}},
{"data":{"name":"notes"},"transform":[{"filter":"datum.p==='D'"}],"mark":{"type":"text","align":"right","baseline":"alphabetic","fontSize":19,"fontWeight":"bold"},
"encoding":{"x":{"field":"x","type":"quantitative","axis":null},"y":{"field":"y","type":"quantitative","axis":null},"text":{"field":"m"},
"color":{"field":"s","type":"nominal","scale":{"domain":["Single","Seq","HadF","HadT","HadL","HybF","HybT"],"range":["#e8262b","#3d86c6","#fb8b1f","#d9cc6b","#4eae4b","#a85a2c","#f57fc0"]},"legend":null}}},
{"data":{"name":"notes"},"transform":[{"filter":"datum.p==='D'"}],"mark":{"type":"text","align":"left","baseline":"alphabetic","fontSize":12.5,"fontWeight":"bold","dy":1},
"encoding":{"x":{"field":"x","type":"quantitative","axis":null},"y":{"field":"y","type":"quantitative","axis":null},"text":{"field":"u"},
"color":{"field":"s","type":"nominal","scale":{"domain":["Single","Seq","HadF","HadT","HadL","HybF","HybT"],"range":["#e8262b","#3d86c6","#fb8b1f","#d9cc6b","#4eae4b","#a85a2c","#f57fc0"]},"legend":null}}},
{"data":{"name":"tags"},"transform":[{"filter":"datum.p==='D'"}],"mark":{"type":"text","align":"right","baseline":"middle","dx":-18,"dy":2,"fontSize":22,"color":"#111111"},
"encoding":{"x":{"field":"x","type":"quantitative","axis":null},"y":{"field":"y","type":"quantitative","axis":null},"text":{"field":"t"}}}
]}
]
}
